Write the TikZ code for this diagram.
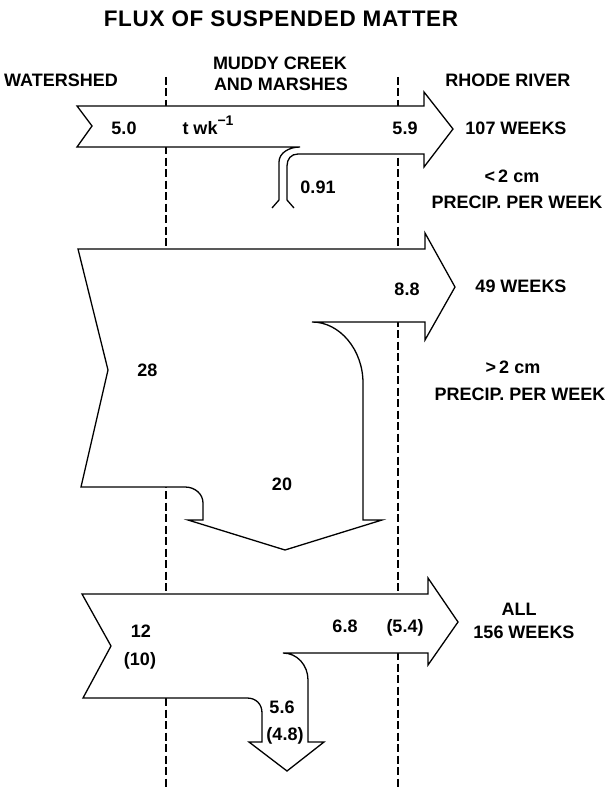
\documentclass[tikz,border=0pt]{standalone}
\usepackage{fontspec}
\setmainfont{Liberation Sans}
\newfontfamily\headfont[LetterSpace=3]{Liberation Sans}

\begin{document}
\begin{tikzpicture}[x=1pt,y=-1pt,
  flow/.style={draw,fill=white,line width=1.3pt,line join=miter},
  divide/.style={line width=1.1pt,dash pattern=on 8pt off 3.5pt},
  lbl/.style={inner sep=0pt,anchor=base,font=\fontsize{18}{21}\selectfont\bfseries}]
  \useasboundingbox (0,0) rectangle (615,789);
  % zone boundaries
  \coordinate (shedtop) at (166,77);
  \coordinate (shedbot) at (166,789);
  \coordinate (rivtop) at (398,77);
  \coordinate (rivbot) at (398,789);
  \draw[divide] (shedtop) -- (shedbot);
  \draw[divide] (rivtop) -- (rivbot);
  % <2 cm weeks
  \path[flow] (272,208) -- (279,200) -- (279,162) .. controls (279,153) and (289,147) .. (300,147)
    -- (77,147) -- (92,126) -- (77,106) -- (424,106) -- (424,92) -- (453,129) -- (424,167)
    -- (424,154) -- (298,154) .. controls (291,154) and (287,159) .. (287,166) -- (287,200) -- (294,208);
  % >2 cm weeks
  \path[flow] (81,487) -- (108,370) -- (78,249) -- (425,249) -- (425,233) -- (455,287) -- (425,340)
    -- (425,322) -- (312,322) .. controls (340,322) and (363,350) .. (363,383) -- (363,520)
    -- (382,520) -- (285,550) -- (188,520) -- (203,520) -- (203,503)
    .. controls (203,494) and (195,487) .. (185,487) -- cycle;
  % all weeks
  \path[flow] (82,594) -- (428,594) -- (428,578) -- (458,622) -- (428,665) -- (428,653) -- (283,653)
    .. controls (297,653) and (308,665) .. (308,680) -- (308,742) -- (324,742) -- (287,771)
    -- (249,742) -- (262,742) -- (262,713) .. controls (262,704) and (256,698) .. (247,698)
    -- (83,698) -- (111,646) -- cycle;
  % headings
  \node[lbl,font=\fontsize{22.5}{28}\selectfont\headfont\bfseries] (title) at (281,27) {FLUX OF SUSPENDED MATTER};
  \node[lbl] (shed) at (61,87) {WATERSHED};
  \node[lbl] (creek) at (280,70) {MUDDY CREEK};
  \node[lbl] (marsh) at (281,91) {AND MARSHES};
  \node[lbl] (river) at (508,87) {RHODE RIVER};
  % values
  \node[lbl] (in107) at (124,134) {5.0};
  \node[lbl] (unit) at (208,134) {t wk\raisebox{8.5pt}{\fontsize{14}{14}\selectfont −1}};
  \node[lbl] (out107) at (405,134) {5.9};
  \node[lbl] (wk107) at (516,134) {107 WEEKS};
  \node[lbl] (dep107) at (318,193) {0.91};
  \node[lbl] (rainlo) at (512,182) {<\hspace{3pt}2 cm};
  \node[lbl] (preclo) at (517,208) {PRECIP. PER WEEK};
  \node[lbl] (in49) at (147.5,376) {28};
  \node[lbl] (out49) at (407,295) {8.8};
  \node[lbl] (wk49) at (521,292) {49 WEEKS};
  \node[lbl] (dep49) at (282,490) {20};
  \node[lbl] (rainhi) at (513,373) {>\hspace{3pt}2 cm};
  \node[lbl] (prechi) at (520,400) {PRECIP. PER WEEK};
  \node[lbl] (inall) at (141,637.5) {12};
  \node[lbl] (inallb) at (140,665) {(10)};
  \node[lbl] (outall) at (345,632) {6.8};
  \node[lbl] (outallb) at (405,632) {(5.4)};
  \node[lbl] (wkall) at (519,615) {ALL};
  \node[lbl] (wkallb) at (524,638) {156 WEEKS};
  \node[lbl] (depall) at (282,713) {5.6};
  \node[lbl] (depallb) at (285,740) {(4.8)};
\end{tikzpicture}
\end{document}
